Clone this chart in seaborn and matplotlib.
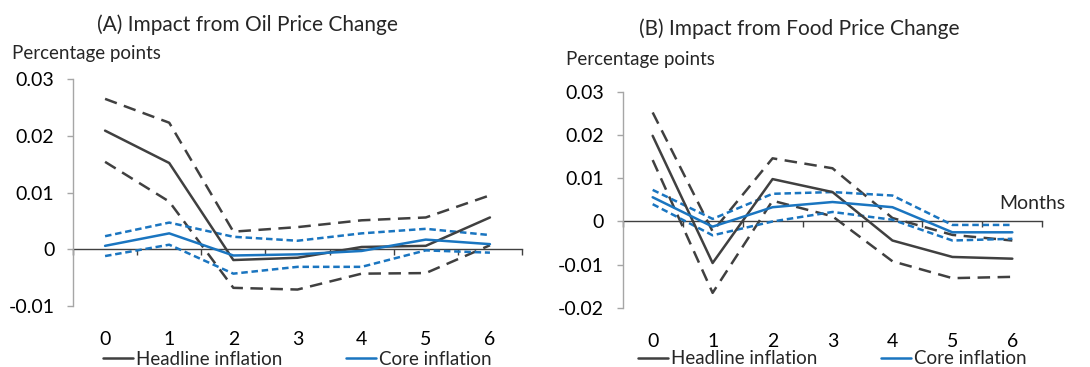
import matplotlib
matplotlib.use("Agg")
import matplotlib.pyplot as plt
import matplotlib.transforms as mtransforms
import seaborn as sns
import numpy as np

sns.set_style("white")
plt.rcParams['font.family'] = ['Lato', 'DejaVu Sans']

months = [0, 1, 2, 3, 4, 5, 6]

# Panel A: oil price change
oil_head = [0.0209, 0.0152, -0.0019, -0.0015, 0.0004, 0.0006, 0.0056]
oil_head_hi = [0.0265, 0.0223, 0.0031, 0.0039, 0.0051, 0.0056, 0.0095]
oil_head_lo = [0.0154, 0.0084, -0.0068, -0.0071, -0.0043, -0.0042, 0.0007]
oil_core = [0.0006, 0.0028, -0.0011, -0.0009, -0.0003, 0.0017, 0.0009]
oil_core_hi = [0.0023, 0.0047, 0.0022, 0.0015, 0.0028, 0.0036, 0.0025]
oil_core_lo = [-0.0012, 0.0008, -0.0043, -0.0031, -0.0031, -0.0002, -0.0006]

# Panel B: food price change
food_head = [0.0198, -0.0096, 0.0098, 0.0068, -0.0044, -0.0082, -0.0086]
food_head_hi = [0.0252, -0.0023, 0.0146, 0.0123, 0.0008, -0.0031, -0.0044]
food_head_lo = [0.0142, -0.0165, 0.0048, 0.0012, -0.0092, -0.0131, -0.0128]
food_core = [0.0056, -0.0012, 0.0033, 0.0045, 0.0033, -0.0025, -0.0025]
food_core_hi = [0.0073, 0.0006, 0.0064, 0.0068, 0.0060, -0.0008, -0.0008]
food_core_lo = [0.0040, -0.0032, 0.0000, 0.0022, 0.0004, -0.0044, -0.0040]

titles = ["(A) Impact from Oil Price Change", "(B) Impact from Food Price Change"]
ylabel = "Percentage points"
xlabel_b = "Months"
head_label = "Headline inflation"
core_label = "Core inflation"
oil_yticks = [-0.01, 0, 0.01, 0.02, 0.03]
food_yticks = [-0.02, -0.01, 0, 0.01, 0.02, 0.03]
ytick_labels_oil = ["-0.01", "0", "0.01", "0.02", "0.03"]
ytick_labels_food = ["-0.02", "-0.01", "0", "0.01", "0.02", "0.03"]

HEAD = "#404040"
CORE = "#1A75C0"
SPINE = "#A6A6A6"
FS = 14

fig = plt.figure(figsize=(10.9, 3.67), dpi=100)
axA = fig.add_axes([73/1090, 1-306/367, 449/1090, 227/367])
axB = fig.add_axes([622.7/1090, 1-308/367, 419.6/1090, 216.3/367])

panels = [
    (axA, oil_head, oil_head_hi, oil_head_lo, oil_core, oil_core_hi, oil_core_lo, oil_yticks, ytick_labels_oil),
    (axB, food_head, food_head_hi, food_head_lo, food_core, food_core_hi, food_core_lo, food_yticks, ytick_labels_food),
]

for i, (ax, h, hh, hl, c, ch, cl, yt, ytl) in enumerate(panels):
    lw = 1.8
    sns.lineplot(x=months, y=hh, ax=ax, color=HEAD, lw=lw)
    ax.lines[-1].set_dashes((5, 3))
    sns.lineplot(x=months, y=hl, ax=ax, color=HEAD, lw=lw)
    ax.lines[-1].set_dashes((5, 3))
    sns.lineplot(x=months, y=ch, ax=ax, color=CORE, lw=lw)
    ax.lines[-1].set_dashes((2.6, 1.5))
    sns.lineplot(x=months, y=cl, ax=ax, color=CORE, lw=lw)
    ax.lines[-1].set_dashes((2.6, 1.5))
    sns.lineplot(x=months, y=h, ax=ax, color=HEAD, lw=lw, label=head_label)
    sns.lineplot(x=months, y=c, ax=ax, color=CORE, lw=lw, label=core_label)

    ax.set_xlim(-0.5, 6.5)
    ax.set_ylim(yt[0], yt[-1])
    ax.set_yticks(yt)
    ax.set_yticklabels(ytl)
    ax.set_xticks(months)
    ax.set_xticklabels([str(m) for m in months])
    ax.set_xlabel("")
    ax.set_ylabel("")
    for s in ["top", "right", "bottom"]:
        ax.spines[s].set_visible(False)
    ax.spines["left"].set_color(SPINE)
    ax.spines["left"].set_linewidth(1.0)
    ax.tick_params(axis="y", direction="out", length=4.5, width=1.0, color=SPINE,
                   labelsize=FS, pad=9, left=True, labelcolor="black")
    ax.tick_params(axis="x", length=0, labelsize=FS, pad=18, labelcolor="black")

    # zero axis with category boundary ticks
    zpos = (0 - yt[0]) / (yt[-1] - yt[0])
    sec = ax.secondary_xaxis(zpos)
    sec.set_xticks(np.arange(-0.5, 7.0, 1.0))
    sec.tick_params(axis="x", direction="out", length=4.5, width=1.0, color="#404040",
                    labelbottom=False, labeltop=False, bottom=True, top=False)
    sec.spines["bottom"].set_color("#404040")
    sec.spines["bottom"].set_linewidth(1.0)
    for s in ["top", "left", "right"]:
        sec.spines[s].set_visible(False)

    ax.legend(loc="center", bbox_to_anchor=(0.5, -0.235), ncol=2, frameon=False,
              fontsize=13.5, handlelength=1.6, handletextpad=0.15, columnspacing=3.4,
              borderaxespad=0)

fig.text(247/1090, 1-25/367, titles[0], ha="center", va="center", fontsize=15)
fig.text(799/1090, 1-29/367, titles[1], ha="center", va="center", fontsize=15)
fig.text(12/1090, 1-54/367, ylabel, ha="left", va="center", fontsize=13.5)
fig.text(566/1090, 1-60/367, ylabel, ha="left", va="center", fontsize=13.5)
trans = mtransforms.blended_transform_factory(axB.transAxes, axB.transData)
axB.text(1.055, 0.0042, xlabel_b, transform=trans, ha="right", va="center", fontsize=FS,
         clip_on=False)

fig.savefig("out.png", dpi=100)
